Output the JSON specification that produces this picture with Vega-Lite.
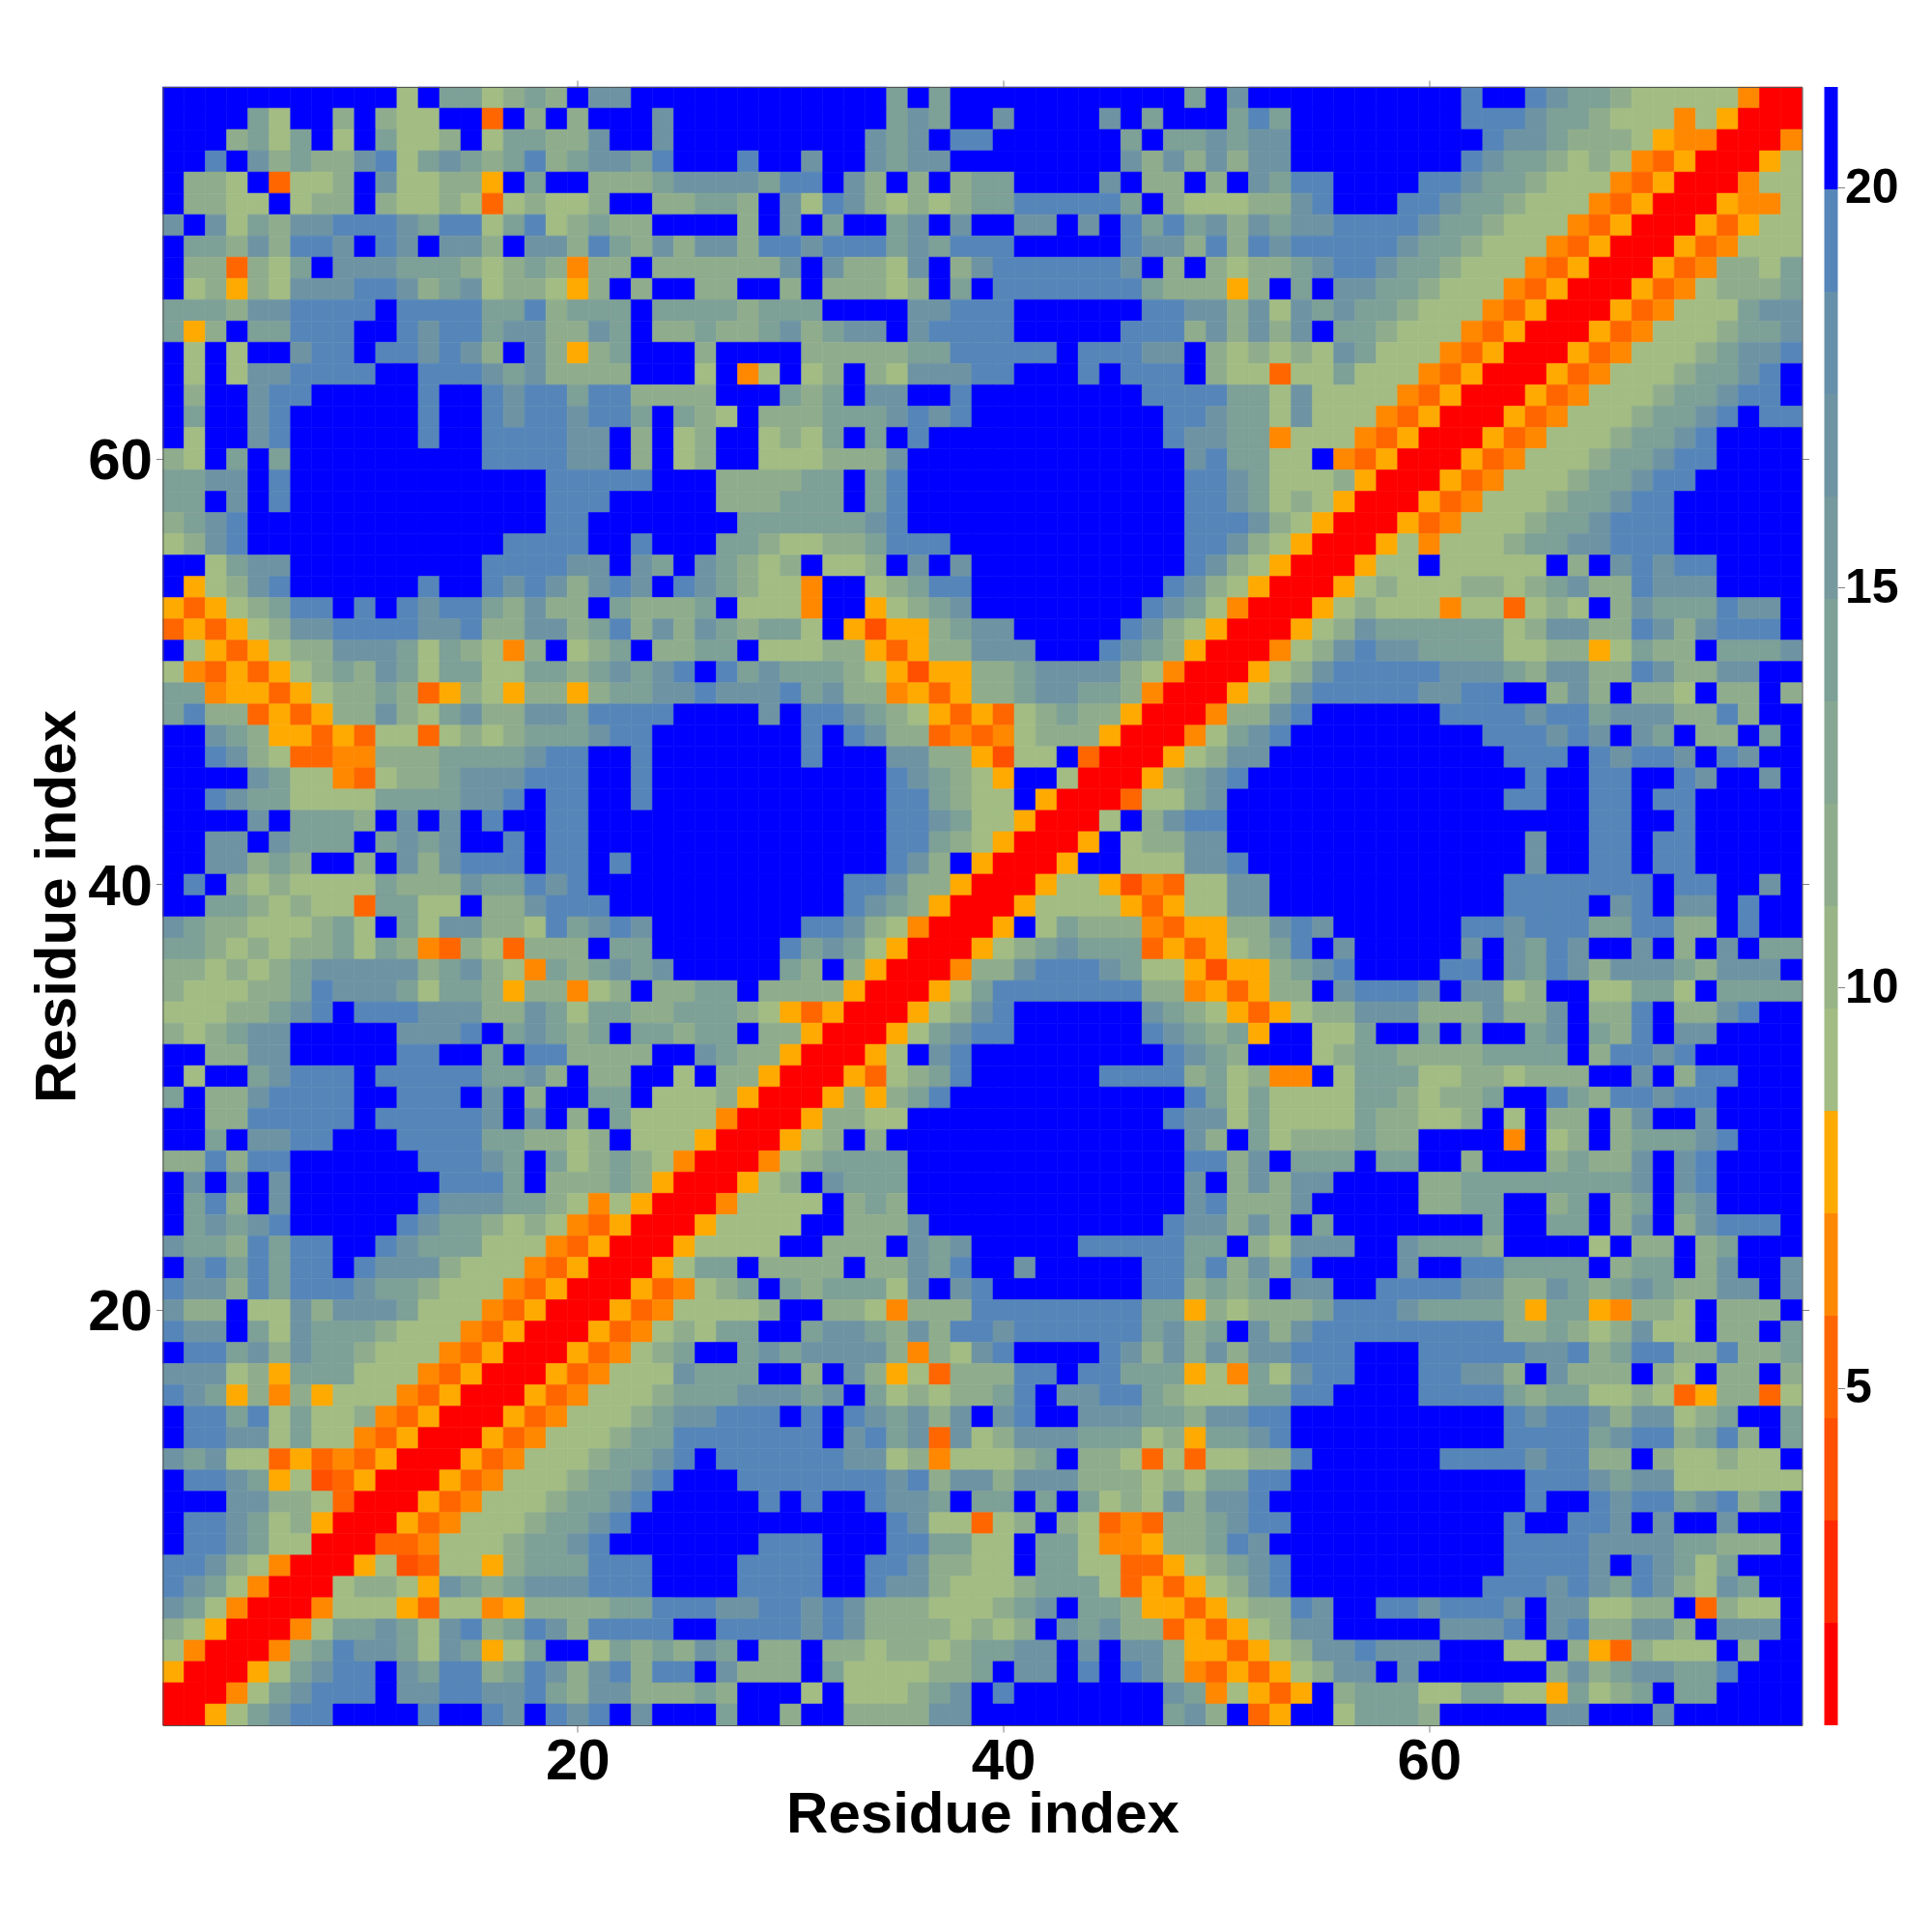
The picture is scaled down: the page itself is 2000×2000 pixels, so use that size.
{"$schema":"https://vega.github.io/schema/vega-lite/v6.json","description":"Values estimated by eye from the reference. Stored as one row per matrix line (array d) rather than one row per cell; flatten and window row_number expand them to cells.","background":"white","padding":{"left":29.5,"top":82,"right":20,"bottom":20},"spacing":23,"bounds":"flush","config":{"view":{"stroke":null},"font":"Liberation Sans"},"datasets":{"matrix":[
{"y":77,"d":[21,21,21,21,21,21,21,21,21,21,21,9,21,14,14,9,12,14,12,21,17,17,21,21,21,21,21,21,21,21,21,21,21,21,14,21,14,21,21,21,21,21,21,21,21,21,21,21,14,21,17,21,21,21,21,21,21,21,21,21,21,19,21,21,19,17,14,14,12,9,9,9,9,9,6,1,1]},
{"y":76,"d":[21,21,21,21,14,9,21,21,12,21,12,9,9,21,21,5,21,12,21,12,21,21,21,17,21,21,21,21,21,21,21,21,21,21,14,17,14,21,21,17,21,21,21,21,17,21,14,21,21,21,14,19,14,21,21,21,21,21,21,21,21,19,19,19,17,14,14,12,9,9,9,6,9,8,1,1,1]},
{"y":75,"d":[21,21,21,12,14,9,14,21,9,21,14,9,9,12,21,9,14,14,12,12,17,21,21,17,21,21,21,21,21,21,21,21,21,17,14,17,21,19,19,21,21,21,21,21,21,14,21,14,14,17,14,17,17,21,21,21,21,21,21,21,21,21,19,17,17,14,12,12,12,9,8,6,6,1,1,1,6]},
{"y":74,"d":[21,21,19,21,17,12,14,12,12,17,19,9,14,17,14,12,14,19,12,14,17,17,14,19,21,21,21,19,21,21,17,21,21,17,14,17,17,21,21,21,21,21,21,21,21,17,12,17,12,17,12,17,17,21,21,21,21,21,21,21,21,19,17,14,14,12,9,12,9,6,5,8,1,1,1,8,9]},
{"y":73,"d":[21,12,12,9,21,5,9,9,12,21,17,9,9,12,12,8,21,14,21,21,12,12,12,14,17,17,17,17,14,19,19,21,17,12,21,12,21,12,14,14,21,21,21,21,17,21,12,12,21,12,21,17,14,19,19,21,21,21,21,19,19,17,14,14,12,9,9,9,6,5,8,1,1,1,6,9,9]},
{"y":72,"d":[21,12,12,9,9,21,9,12,12,21,12,9,9,12,9,5,9,12,9,9,12,21,21,12,12,14,14,12,21,17,9,19,17,12,9,12,9,12,14,14,19,19,19,19,19,14,21,12,9,9,9,12,12,17,19,21,21,21,19,19,17,14,14,12,9,9,9,6,5,8,1,1,1,8,6,6,9]},
{"y":71,"d":[17,21,17,9,14,12,17,17,19,19,19,17,14,19,19,9,14,19,9,12,14,12,12,21,21,21,21,12,21,17,21,14,21,21,14,17,21,17,21,21,17,17,21,17,21,19,14,19,14,17,12,17,14,17,17,19,19,19,19,17,14,14,12,9,9,9,6,5,8,1,1,1,8,5,8,9,9]},
{"y":70,"d":[21,14,14,12,17,12,19,19,17,21,19,17,21,17,17,12,21,17,17,12,19,14,12,17,12,17,17,12,19,19,17,19,19,19,14,17,14,19,19,19,21,21,21,21,21,19,17,17,12,19,12,19,17,19,19,19,19,19,17,14,14,12,9,9,9,6,5,8,1,1,1,8,5,6,9,9,9]},
{"y":69,"d":[21,12,12,5,12,9,14,21,17,17,17,14,14,14,12,9,12,14,12,6,12,12,21,12,12,12,12,12,12,17,21,17,12,12,9,17,21,12,17,19,19,19,19,19,19,17,21,12,21,12,9,12,12,14,17,19,19,17,14,14,12,9,9,9,6,5,8,1,1,1,8,5,6,12,12,9,14]},
{"y":68,"d":[21,9,12,8,12,9,17,17,17,19,19,17,12,14,17,9,12,12,9,8,12,21,12,21,21,12,12,21,21,12,21,12,12,12,9,12,21,14,21,19,19,19,19,19,19,19,14,12,12,12,8,12,21,14,21,17,17,14,14,12,9,9,9,6,5,8,1,1,1,8,5,6,9,12,12,12,14]},
{"y":67,"d":[14,14,14,12,17,17,19,19,19,19,21,19,19,19,19,14,14,19,12,14,14,14,21,14,14,14,14,12,14,14,14,21,21,21,21,17,17,19,19,19,21,21,21,21,21,21,19,19,17,17,12,17,9,17,14,17,14,14,12,9,9,9,6,5,8,1,1,1,8,5,6,9,9,9,14,17,17]},
{"y":66,"d":[14,8,12,21,14,14,19,19,19,21,21,19,17,19,19,14,17,17,12,12,17,14,21,12,12,14,12,12,14,17,12,14,17,17,21,17,19,19,19,19,21,21,21,21,21,19,19,19,12,17,12,17,12,17,21,14,14,12,9,9,9,6,5,8,1,1,1,8,5,6,9,9,9,12,14,14,17]},
{"y":65,"d":[21,9,21,9,21,21,17,19,19,21,19,19,17,19,17,12,21,17,12,8,12,14,21,21,21,12,21,21,21,21,12,12,12,12,12,14,14,19,19,19,19,19,21,19,19,19,17,17,21,12,9,12,9,12,9,17,14,9,9,9,6,5,8,1,1,1,8,5,6,9,9,9,12,14,17,17,19]},
{"y":64,"d":[21,9,21,9,17,17,19,19,19,19,21,21,19,19,19,17,14,17,12,12,12,12,21,21,21,9,21,6,9,21,9,12,21,12,9,17,17,17,19,19,21,21,21,19,21,19,19,19,21,12,9,9,5,9,9,14,9,9,9,6,5,8,1,1,1,8,5,6,9,9,9,12,14,14,17,19,21]},
{"y":63,"d":[21,12,21,21,17,19,19,21,21,21,21,21,19,21,21,19,17,19,19,14,19,19,12,12,12,12,21,21,21,14,12,14,21,17,17,21,21,19,21,21,21,21,21,21,21,21,19,19,19,19,14,14,9,17,9,9,9,9,6,5,8,1,1,1,8,5,6,9,9,9,12,14,14,17,19,19,21]},
{"y":62,"d":[21,14,21,21,17,19,21,21,21,21,21,21,19,21,21,19,17,19,19,17,19,19,14,21,14,12,9,21,12,12,12,14,14,14,17,19,17,19,21,21,21,21,21,21,21,21,21,19,19,17,14,14,9,17,9,9,9,6,5,8,1,1,1,8,5,6,9,9,9,12,14,14,17,19,21,19,19]},
{"y":61,"d":[21,9,21,21,17,19,21,21,21,21,21,21,19,21,21,19,19,19,19,17,17,21,12,21,9,12,21,21,9,12,9,14,21,14,21,19,21,21,21,21,21,21,21,21,21,21,21,19,17,17,14,14,6,9,9,9,6,5,8,1,1,1,8,5,6,9,9,9,12,14,14,17,19,21,21,21,21]},
{"y":60,"d":[12,9,21,14,21,14,21,21,21,21,21,21,21,21,21,19,19,19,19,17,17,21,12,21,9,12,21,21,9,9,9,12,12,12,17,21,21,21,21,21,21,21,21,21,21,21,21,21,17,19,14,14,9,9,21,6,5,8,1,1,1,8,5,6,9,9,9,12,14,14,17,19,19,21,21,21,21]},
{"y":59,"d":[14,14,17,17,21,19,21,21,21,21,21,21,21,21,21,21,21,21,19,19,19,19,19,21,21,21,12,12,12,12,14,14,21,14,19,21,21,21,21,21,21,21,21,21,21,21,21,21,19,19,17,14,9,9,9,12,8,1,1,1,8,5,6,9,9,9,12,14,14,17,19,19,21,21,21,21,21]},
{"y":58,"d":[14,14,21,17,21,19,21,21,21,21,21,21,21,21,21,21,21,21,19,19,19,21,21,21,21,21,12,12,12,14,14,14,21,14,19,21,21,21,21,21,21,21,21,21,21,21,21,21,19,19,17,14,9,12,9,8,1,1,1,8,5,6,9,9,9,12,14,14,17,19,19,21,21,21,21,21,21]},
{"y":57,"d":[12,14,17,19,21,21,21,21,21,21,21,21,21,21,21,21,21,21,19,19,21,21,21,21,21,21,21,14,14,14,14,14,14,17,19,21,21,21,21,21,21,21,21,21,21,21,21,21,19,19,19,17,12,9,8,1,1,1,8,5,6,9,9,9,12,14,14,17,19,19,19,21,21,21,21,21,21]},
{"y":56,"d":[9,12,17,19,21,21,21,21,21,21,21,21,21,21,21,21,19,19,19,19,21,21,19,21,21,21,14,14,12,9,9,12,12,14,19,19,19,21,21,21,21,21,21,21,21,21,21,21,19,19,17,12,9,8,1,1,1,8,9,6,9,9,9,12,14,14,17,17,19,19,19,21,21,21,21,21,21]},
{"y":55,"d":[21,21,9,14,17,17,21,21,21,21,21,21,21,21,21,19,19,19,19,17,17,21,17,14,21,17,14,12,9,12,21,9,9,12,21,17,21,17,21,21,21,21,21,21,21,21,21,21,19,17,12,9,8,1,1,1,8,9,9,21,9,9,9,9,9,21,12,21,17,19,17,19,19,21,21,21,21]},
{"y":54,"d":[21,8,9,12,17,19,21,21,21,21,21,21,19,21,21,19,17,19,17,12,17,19,17,21,19,17,14,12,9,9,6,21,21,9,12,14,19,19,21,21,21,21,21,21,21,21,21,19,17,12,9,8,1,1,1,8,9,12,9,9,9,12,12,9,12,14,17,12,12,19,17,17,17,21,21,21,21]},
{"y":53,"d":[8,5,8,9,12,14,19,19,21,19,21,19,17,19,19,14,12,17,12,12,21,14,12,12,12,14,21,9,9,9,6,21,21,8,9,12,14,17,21,21,21,21,21,21,21,21,19,17,14,9,6,1,1,1,8,9,12,9,9,9,6,9,9,5,9,12,9,21,12,17,14,14,14,19,17,17,21]},
{"y":52,"d":[5,8,5,8,9,12,17,17,19,19,19,19,17,17,19,12,12,17,17,12,14,19,12,17,12,17,14,12,14,14,9,21,8,4,8,8,12,14,17,17,21,21,21,21,21,19,17,12,9,8,1,1,1,8,9,12,17,14,14,14,14,14,14,9,12,17,17,12,12,19,17,12,17,19,19,19,21]},
{"y":51,"d":[21,9,8,5,8,9,12,12,17,17,17,14,9,14,12,9,6,12,21,9,12,14,21,12,12,14,14,21,9,9,9,12,12,8,5,8,12,12,17,17,17,21,21,21,19,17,14,12,8,1,1,1,6,9,12,17,19,17,17,14,14,14,14,9,9,12,12,8,9,14,12,12,21,14,14,14,17]},
{"y":50,"d":[9,6,5,8,5,8,9,12,14,12,17,14,9,14,14,9,9,14,14,12,14,17,14,17,19,21,19,14,17,14,14,14,12,9,8,4,8,8,12,12,14,17,17,17,17,12,9,6,1,1,1,8,9,12,17,19,19,19,19,19,17,17,17,14,12,17,17,12,12,19,17,12,12,17,17,21,21]},
{"y":49,"d":[14,14,6,8,8,5,8,9,12,12,14,12,5,8,12,9,8,12,12,8,12,14,14,17,17,19,17,17,17,19,14,17,12,12,6,8,5,8,12,12,14,17,17,14,14,12,6,1,1,1,8,9,12,17,19,19,19,19,19,17,17,19,19,21,21,12,17,12,21,12,12,9,21,12,12,21,12]},
{"y":48,"d":[14,19,12,12,5,8,5,8,12,12,17,12,9,14,17,12,12,17,17,14,19,19,19,19,21,21,21,21,17,21,19,19,17,14,12,9,8,5,8,5,9,12,14,12,12,8,1,1,1,6,12,12,17,19,21,21,21,21,21,21,19,19,19,19,17,19,19,14,17,17,17,12,12,19,12,21,21]},
{"y":47,"d":[21,21,17,14,12,8,8,5,8,5,9,9,5,9,12,9,12,14,14,14,17,19,19,21,21,21,21,21,21,21,19,21,19,17,12,12,5,6,5,6,9,12,12,12,8,1,1,1,6,9,14,17,19,21,21,21,21,21,21,21,21,21,19,19,19,17,19,17,21,17,14,21,12,12,21,14,21]},
{"y":46,"d":[21,21,19,17,12,9,5,5,6,6,12,12,12,14,14,14,14,17,19,19,21,21,19,21,21,21,21,21,21,21,19,21,21,21,17,17,12,12,8,4,9,9,21,5,1,1,1,8,9,12,17,17,21,21,21,21,21,21,21,21,21,21,21,19,19,19,21,19,17,19,19,17,21,19,17,21,21]},
{"y":45,"d":[21,21,21,21,17,14,9,9,6,5,9,12,12,14,17,17,17,19,19,19,21,21,19,21,21,21,21,21,21,21,21,21,21,21,19,17,14,12,9,8,21,21,9,1,1,1,8,12,14,17,19,21,21,21,21,21,21,21,21,21,21,21,21,21,19,21,21,19,19,21,21,19,17,21,21,17,21]},
{"y":44,"d":[21,21,19,17,14,14,9,9,9,9,14,14,14,14,17,17,19,21,19,19,21,21,19,21,21,21,21,21,21,21,21,21,21,21,19,19,14,12,9,9,21,8,1,1,1,5,9,9,14,17,21,21,21,21,21,21,21,21,21,21,21,21,21,19,19,21,21,19,19,21,19,19,21,21,21,21,21]},
{"y":43,"d":[21,21,21,21,17,21,14,14,14,12,21,17,21,17,21,19,21,21,19,19,21,21,21,21,21,21,21,21,21,21,21,21,21,21,19,19,17,14,9,9,8,1,1,1,9,21,12,17,19,19,21,21,21,21,21,21,21,21,21,21,21,21,21,21,21,21,21,19,19,21,21,19,21,21,21,21,21]},
{"y":42,"d":[21,21,17,17,21,17,14,14,14,21,14,17,14,17,21,21,19,21,19,19,21,21,21,21,21,21,21,21,21,21,21,21,21,21,19,19,14,12,9,8,1,1,1,8,21,9,12,12,17,17,21,21,21,21,21,21,21,21,21,21,21,21,21,21,17,21,21,19,19,21,19,19,21,21,21,21,21]},
{"y":41,"d":[21,21,17,17,12,14,12,21,21,12,21,17,12,17,19,19,19,21,19,19,21,19,21,21,21,21,21,21,21,21,21,21,21,21,19,17,12,21,8,1,1,1,8,21,21,9,9,9,17,17,19,21,21,21,21,21,21,21,21,21,21,21,21,21,17,21,21,19,19,21,19,19,21,21,21,21,21]},
{"y":40,"d":[21,19,21,12,9,12,9,9,9,9,14,12,12,12,17,14,14,19,17,19,21,21,21,21,21,21,21,21,21,21,21,21,19,19,17,12,12,8,1,1,1,8,9,9,8,4,6,5,9,9,17,17,21,21,21,21,21,21,21,21,21,21,21,19,19,19,19,19,19,19,21,19,19,21,21,17,21]},
{"y":39,"d":[21,21,14,14,12,9,12,9,9,5,14,14,9,9,21,12,12,17,19,19,19,21,21,21,21,21,21,21,21,21,21,21,19,17,14,12,8,1,1,1,8,9,9,9,9,8,5,8,9,9,17,17,21,21,21,21,21,21,21,21,21,21,21,19,19,19,19,21,17,19,21,17,17,21,19,21,21]},
{"y":38,"d":[17,14,12,12,9,9,9,12,14,9,21,14,9,17,17,12,12,9,19,14,17,19,17,21,21,21,21,21,21,21,19,19,17,12,9,6,1,1,1,8,21,9,14,12,12,12,6,5,8,8,12,12,17,19,17,21,21,21,21,21,21,19,19,17,19,19,19,14,14,19,19,12,12,21,19,21,21]},
{"y":37,"d":[14,14,12,9,12,9,12,12,14,9,14,12,6,5,12,9,5,12,12,12,21,14,14,21,21,21,21,21,21,19,14,17,14,9,8,1,1,1,8,9,12,14,17,14,14,14,5,8,5,8,9,12,14,19,21,17,21,21,21,21,21,17,21,17,14,19,17,21,21,17,21,12,21,17,21,14,14]},
{"y":36,"d":[12,12,9,12,9,12,14,17,17,17,17,17,12,14,17,12,9,6,14,12,14,17,14,17,21,21,21,21,21,14,12,21,12,8,1,1,1,6,12,12,17,19,19,19,17,14,9,9,8,4,8,8,12,14,17,19,21,21,21,21,19,19,21,17,14,19,17,12,17,17,17,14,12,17,17,17,21]},
{"y":35,"d":[12,9,9,9,12,12,14,19,17,17,17,14,9,14,14,12,8,12,12,6,9,12,21,12,12,14,14,21,12,12,12,12,8,1,1,1,8,9,14,19,19,19,19,19,19,19,12,12,6,8,5,8,12,12,21,17,19,19,19,17,21,17,17,9,12,21,21,9,9,14,14,9,21,14,14,14,14]},
{"y":34,"d":[9,9,9,12,12,14,17,19,21,19,19,19,17,17,17,12,12,17,14,9,14,14,12,12,14,14,14,12,9,8,5,8,1,1,1,8,9,12,17,19,21,21,21,21,21,21,17,14,12,9,8,5,8,9,12,12,17,17,17,12,12,12,17,12,12,17,21,12,12,19,21,12,12,17,19,21,21]},
{"y":33,"d":[12,9,12,14,17,17,21,21,21,21,21,17,17,17,19,21,14,17,14,12,14,21,14,14,12,14,14,21,12,12,8,1,1,1,8,9,14,17,19,19,21,21,21,21,21,21,19,17,14,12,14,8,21,21,9,9,14,21,21,14,21,14,21,21,14,17,21,14,12,19,21,17,17,21,21,21,21]},
{"y":32,"d":[21,21,12,12,17,17,21,21,21,21,21,19,19,21,21,14,21,19,19,12,12,12,12,21,21,17,14,12,12,8,1,1,1,8,9,21,17,19,21,21,21,21,21,21,21,21,21,19,17,14,12,21,21,21,9,12,14,14,12,12,12,12,14,14,14,14,21,12,19,19,17,19,21,21,21,21,21]},
{"y":31,"d":[21,9,21,21,14,17,19,19,19,21,19,19,19,19,19,14,14,17,12,21,12,12,21,21,9,21,12,12,8,1,1,1,8,5,9,12,14,19,21,21,21,21,21,21,19,19,19,19,12,14,9,12,6,6,21,9,14,14,14,9,9,12,12,9,12,12,12,21,21,17,21,12,19,19,21,21,21]},
{"y":30,"d":[14,21,12,12,17,19,19,19,19,21,21,19,19,19,21,17,21,12,21,21,14,14,21,9,9,9,12,8,1,1,1,8,12,8,12,14,19,21,21,21,21,21,21,21,21,21,21,21,19,14,9,14,9,9,9,9,14,14,12,9,12,12,14,21,21,19,14,12,19,19,17,19,19,21,21,21,21]},
{"y":29,"d":[21,21,12,12,19,19,19,19,19,21,19,19,19,19,19,17,21,17,21,12,21,14,9,9,9,9,6,1,1,1,8,12,12,9,9,21,21,21,21,21,21,21,21,21,21,21,21,19,17,17,9,14,9,9,9,9,14,12,12,9,9,12,21,9,21,12,12,21,12,17,21,21,17,21,21,21,21]},
{"y":28,"d":[21,21,14,21,17,17,19,19,21,21,21,19,19,19,19,14,14,12,12,9,12,21,9,9,9,8,1,1,1,8,9,12,21,12,21,21,21,21,21,21,21,21,21,21,21,21,21,21,17,12,21,14,9,12,12,12,14,12,12,21,21,21,21,6,21,9,12,21,12,14,14,14,17,19,21,21,21]},
{"y":27,"d":[12,12,19,12,19,19,21,21,21,21,21,21,19,19,19,17,14,21,14,9,12,14,12,9,6,1,1,1,6,9,12,14,14,14,14,21,21,21,21,21,21,21,21,21,21,21,21,21,19,19,12,17,21,14,14,14,21,14,14,21,21,12,21,21,21,12,14,12,12,17,21,17,19,21,21,21,21]},
{"y":26,"d":[21,17,21,17,21,17,21,21,21,21,21,21,21,19,19,19,14,21,12,12,12,14,12,8,1,1,1,8,9,12,21,17,14,14,14,21,21,21,21,21,21,21,21,21,21,21,21,21,17,21,12,17,12,17,17,21,21,21,21,12,12,14,14,14,14,14,14,14,14,17,21,17,19,21,21,21,21]},
{"y":25,"d":[21,14,19,12,21,17,21,21,21,21,21,21,19,17,17,17,14,14,12,9,6,9,8,1,1,1,6,9,9,9,9,21,12,14,12,21,21,21,21,21,21,21,21,21,21,21,21,21,17,19,12,12,12,17,21,21,21,21,21,12,12,14,14,21,21,12,14,21,12,14,21,14,17,21,21,21,21]},
{"y":24,"d":[21,14,17,14,17,19,21,21,21,21,21,19,17,14,14,12,9,12,9,6,5,8,1,1,1,8,9,9,9,9,21,21,12,12,12,17,21,21,21,21,21,21,21,21,21,21,21,19,17,17,12,17,12,21,14,21,21,21,21,21,21,21,14,21,21,14,14,21,12,17,21,12,17,19,19,19,21]},
{"y":23,"d":[17,14,14,12,19,14,19,19,21,21,19,17,14,14,14,9,9,9,6,5,8,1,1,1,8,9,9,9,9,21,21,12,12,12,21,17,14,17,21,21,21,21,21,19,19,19,19,19,14,14,21,12,9,17,17,17,21,21,17,14,14,14,12,21,21,21,21,9,21,12,12,21,12,14,21,21,21]},
{"y":22,"d":[21,17,19,14,19,14,19,19,21,19,17,17,17,12,9,9,9,6,5,8,1,1,1,8,9,14,14,21,12,12,12,12,21,12,12,17,14,19,21,21,17,21,21,21,21,21,19,19,14,19,12,17,12,19,21,21,21,21,17,21,21,19,19,14,14,14,14,21,12,14,14,21,12,17,21,21,17]},
{"y":21,"d":[19,17,17,12,19,14,19,19,19,17,14,14,12,9,9,9,6,5,8,1,1,1,8,5,6,9,12,14,21,14,12,14,14,14,9,17,21,17,19,21,21,21,21,21,21,21,19,19,12,14,12,14,21,17,17,21,21,19,19,19,19,17,17,12,12,17,14,12,14,17,14,12,12,17,17,21,17]},
{"y":20,"d":[17,12,12,21,9,9,17,12,17,17,17,14,9,9,9,6,5,8,1,1,1,8,5,6,9,9,9,9,12,21,21,12,12,9,6,12,12,12,19,19,19,19,19,19,19,19,14,14,8,12,9,12,12,12,14,19,19,19,17,14,14,14,14,12,8,14,14,8,6,12,12,9,21,12,12,12,21]},
{"y":19,"d":[19,17,17,21,14,9,17,14,14,14,12,9,9,9,6,5,8,1,1,1,8,5,6,9,12,9,14,14,21,21,14,17,17,14,12,17,12,19,19,17,19,19,19,19,19,19,14,17,12,14,21,17,12,17,19,19,19,19,19,19,19,19,19,12,12,14,12,9,12,17,9,9,21,12,12,21,14]},
{"y":18,"d":[21,19,19,14,17,12,17,14,14,12,9,9,9,6,5,8,1,1,1,8,5,6,9,12,14,21,21,14,17,14,17,17,17,17,12,6,12,9,17,19,21,21,21,21,19,17,12,17,12,17,12,17,17,19,19,19,21,21,21,19,19,19,19,19,17,17,19,12,14,19,19,12,12,19,12,12,14]},
{"y":17,"d":[17,17,17,9,12,8,14,14,14,9,9,9,6,5,8,1,1,1,8,5,6,9,9,9,17,14,14,14,21,21,12,21,17,12,8,9,5,12,12,12,19,19,21,19,19,14,14,14,8,9,6,14,9,17,19,19,21,21,21,19,19,17,17,12,21,17,12,12,12,21,12,9,21,12,12,21,12]},
{"y":16,"d":[19,17,14,8,12,6,12,8,9,9,9,6,5,8,1,1,1,8,5,6,9,9,9,12,14,14,14,17,17,17,14,17,21,14,9,12,9,12,12,14,19,21,17,17,19,19,14,12,9,9,9,14,14,19,19,21,21,21,21,19,19,19,19,14,12,14,14,9,9,12,9,5,8,12,12,5,9]},
{"y":15,"d":[21,19,19,14,19,9,14,9,9,12,6,5,8,1,1,1,8,5,6,9,9,9,12,14,17,17,19,19,19,21,19,21,19,17,14,17,12,17,21,17,19,21,21,17,17,17,14,14,12,17,17,19,19,21,21,21,21,21,21,21,21,21,21,19,17,19,19,17,12,17,17,9,12,14,21,21,14]},
{"y":14,"d":[21,19,19,17,17,9,14,9,9,6,5,8,1,1,1,8,5,6,9,9,9,12,14,14,19,19,19,19,19,19,19,21,17,19,14,17,5,17,9,12,17,17,17,14,14,14,9,12,8,14,14,17,19,21,21,21,21,21,21,21,21,21,21,19,19,19,19,14,17,19,19,12,14,19,12,21,14]},
{"y":13,"d":[17,14,17,9,9,5,8,5,6,5,8,1,1,1,8,5,6,9,9,9,12,14,14,17,19,21,19,19,19,19,19,19,17,17,9,12,6,9,9,9,12,14,21,12,12,9,5,9,5,9,9,12,12,19,21,21,21,21,21,21,19,19,19,19,17,19,19,12,12,21,12,9,9,12,9,9,21]},
{"y":12,"d":[21,19,19,17,14,8,9,4,5,8,1,1,1,8,5,6,9,9,9,12,14,14,17,19,21,21,21,19,19,19,19,19,19,19,17,19,12,17,17,12,17,17,17,12,12,12,9,12,9,14,14,19,19,21,21,21,21,21,21,21,21,21,21,21,19,19,19,17,14,17,17,9,9,9,9,9,9]},
{"y":11,"d":[21,21,21,17,17,12,12,9,5,1,1,1,8,5,6,9,9,9,12,14,14,17,19,21,21,21,21,21,19,21,19,21,21,19,17,17,14,21,14,14,21,14,21,14,9,12,9,17,12,17,17,19,21,21,21,21,21,21,21,21,21,21,21,21,19,21,21,19,17,19,19,14,17,19,12,14,21]},
{"y":10,"d":[21,19,19,17,14,9,12,8,1,1,1,8,5,6,9,9,9,12,14,14,17,19,21,21,21,21,21,21,21,21,21,21,21,21,19,17,9,9,5,9,12,21,12,9,5,6,5,12,12,14,17,19,19,21,21,21,21,21,21,21,21,21,21,19,21,21,19,19,17,21,17,21,21,17,21,21,21]},
{"y":9,"d":[21,19,19,17,14,9,9,1,1,1,5,5,6,9,9,9,12,14,14,17,19,21,21,21,21,21,21,21,19,19,19,21,21,21,19,19,14,14,9,9,21,14,14,9,6,6,8,12,12,14,19,17,21,21,21,21,21,21,21,21,21,21,21,19,19,19,19,17,17,17,17,14,14,12,12,12,21]},
{"y":8,"d":[19,19,17,12,9,6,1,1,1,8,9,4,5,9,9,8,12,14,14,14,19,19,19,21,21,21,21,19,19,19,19,21,21,19,19,17,12,12,9,9,21,14,14,9,9,5,5,8,9,12,14,17,19,21,21,21,21,21,21,21,21,21,21,19,19,19,19,17,21,19,17,14,9,14,21,21,21]},
{"y":7,"d":[19,17,14,9,6,1,1,1,9,12,12,9,8,17,14,12,14,17,17,17,19,19,19,21,21,21,21,19,19,19,19,21,21,19,17,17,12,9,9,9,12,14,14,14,9,5,8,5,8,9,12,17,19,21,21,21,21,21,21,21,21,21,19,19,19,17,19,17,14,19,17,12,9,17,14,21,21]},
{"y":6,"d":[17,14,9,6,1,1,1,6,9,9,9,8,5,9,9,6,8,12,12,12,12,14,14,19,19,19,17,17,19,19,17,19,17,12,12,12,9,9,9,12,14,17,21,14,14,12,8,8,5,8,9,12,12,19,17,21,21,19,19,17,19,19,19,17,21,17,17,9,9,12,12,21,5,12,9,9,21]},
{"y":5,"d":[12,9,8,1,1,1,6,9,14,14,17,14,9,17,19,12,14,19,17,12,19,19,19,19,21,21,19,19,19,19,17,19,17,12,12,12,12,9,12,9,12,21,17,14,17,12,12,5,8,5,8,9,12,17,17,21,21,21,21,21,17,17,17,19,21,17,19,12,12,17,17,12,21,17,17,17,21]},
{"y":4,"d":[9,6,1,1,1,6,12,14,19,17,17,14,9,17,14,8,9,14,21,21,9,14,12,14,12,17,14,21,12,12,21,12,12,9,12,12,9,12,14,14,17,17,21,17,21,17,17,12,8,8,5,8,9,12,17,17,19,17,17,17,21,21,21,9,9,21,12,8,5,12,9,9,9,21,12,21,21]},
{"y":3,"d":[8,1,1,1,8,9,14,17,19,19,21,17,14,19,19,12,14,19,17,12,17,19,12,19,19,21,17,12,12,12,21,14,9,9,9,9,12,12,14,21,17,17,21,19,21,19,17,12,6,5,8,5,8,9,12,17,17,21,17,21,21,21,21,21,21,12,17,12,14,17,17,14,14,19,21,21,21]},
{"y":2,"d":[1,1,1,6,9,14,17,19,19,19,21,17,17,19,19,17,17,19,14,12,17,17,12,12,12,14,12,21,21,21,9,21,9,9,9,12,14,17,21,19,21,21,21,21,21,21,21,17,14,6,9,8,5,8,21,12,14,14,14,9,9,14,14,9,9,8,14,9,12,14,21,14,14,21,21,21,21]},
{"y":1,"d":[1,1,8,9,14,17,19,19,21,21,21,21,19,21,21,19,17,21,19,17,19,21,17,21,21,21,14,21,21,12,21,21,12,12,12,12,17,17,21,21,21,21,21,21,21,21,21,14,17,12,21,5,8,21,21,9,14,14,14,12,21,21,21,21,21,17,17,21,21,21,17,21,21,21,21,21,21]}
],"bands":[
{"lo":0.78,"hi":2.06,"v":1},{"lo":2.06,"hi":3.34,"v":3},{"lo":3.34,"hi":4.62,"v":4},{"lo":4.62,"hi":5.9,"v":5},{"lo":5.9,"hi":7.18,"v":6},{"lo":7.18,"hi":8.46,"v":8},{"lo":8.46,"hi":9.74,"v":9},{"lo":9.74,"hi":11.02,"v":10},{"lo":11.02,"hi":12.3,"v":12},{"lo":12.3,"hi":13.58,"v":13},{"lo":13.58,"hi":14.86,"v":14},{"lo":14.86,"hi":16.14,"v":15},{"lo":16.14,"hi":17.42,"v":17},{"lo":17.42,"hi":18.7,"v":18},{"lo":18.7,"hi":19.98,"v":19},{"lo":19.98,"hi":21.26,"v":21}]},
"hconcat":[
{"width":1697,"height":1696,"data":{"name":"matrix"},"transform":[{"flatten":["d"]},{"window":[{"op":"row_number","as":"x"}],"groupby":["y"]}],
"layer":[
{"mark":{"type":"rect","strokeWidth":0.6},"encoding":{
"x":{"field":"x","type":"ordinal","scale":{"paddingInner":0,"paddingOuter":0,"round":false},"axis":{"values":[20,40,60],"labelAngle":0,"labelFont":"Liberation Sans","labelFontWeight":"bold","labelFontSize":60,"labelColor":"black","labelPadding":1,"tickSize":7,"tickColor":"#808080","domainColor":"#555555","title":"Residue index","titleFont":"Liberation Sans","titleFontWeight":"bold","titleFontSize":60,"titleColor":"black","titlePadding":-4}},
"y":{"field":"y","type":"ordinal","sort":"descending","scale":{"paddingInner":0,"paddingOuter":0,"round":false},"axis":{"values":[20,40,60],"labelFont":"Liberation Sans","labelFontWeight":"bold","labelFontSize":60,"labelColor":"black","labelPadding":4,"labelOffset":3,"tickSize":7,"tickColor":"#808080","domainColor":"#555555","title":"Residue index","titleFont":"Liberation Sans","titleFontWeight":"bold","titleFontSize":60,"titleColor":"black","titlePadding":0}},
"fill":{"field":"d","type":"quantitative","legend":null,"scale":{"type":"quantize","domain":[0.78,21.26],"nice":false,"range":["#ff0000","#ff2a00","#ff5000","#ff6600","#ff8800","#ffaa00","#a2bc83","#99b587","#8fad8c","#86a792","#7da097","#76999d","#6e94a3","#6690aa","#5686b9","#0000ff"]}},
"stroke":{"field":"d","type":"quantitative","legend":null,"scale":{"type":"quantize","domain":[0.78,21.26],"nice":false,"range":["#ff0000","#ff2a00","#ff5000","#ff6600","#ff8800","#ffaa00","#a2bc83","#99b587","#8fad8c","#86a792","#7da097","#76999d","#6e94a3","#6690aa","#5686b9","#0000ff"]}}
}},
{"mark":{"type":"rect","opacity":0},"encoding":{
"x":{"field":"x","type":"ordinal","axis":{"orient":"top","values":[20,40,60],"labels":false,"title":null,"tickSize":7,"tickColor":"#808080","domainColor":"#555555"}},
"y":{"field":"y","type":"ordinal","sort":"descending","axis":{"orient":"right","values":[20,40,60],"labels":false,"title":null,"tickSize":7,"tickColor":"#808080","domainColor":"#555555"}}
}}
],"resolve":{"axis":{"x":"independent","y":"independent"}}},
{"width":14,"height":1696,"data":{"name":"bands"},"mark":{"type":"rect"},"encoding":{
"y":{"field":"lo","type":"quantitative","scale":{"domain":[0.78,21.26],"nice":false,"zero":false},"axis":{"orient":"right","values":[5,10,15,20],"grid":false,"labelFont":"Liberation Sans","labelFontWeight":"bold","labelFontSize":50,"labelColor":"black","labelPadding":0,"tickSize":7,"tickColor":"#808080","domain":false,"title":null}},
"y2":{"field":"hi"},
"fill":{"field":"v","type":"quantitative","legend":null,"scale":{"type":"quantize","domain":[0.78,21.26],"nice":false,"range":["#ff0000","#ff2a00","#ff5000","#ff6600","#ff8800","#ffaa00","#a2bc83","#99b587","#8fad8c","#86a792","#7da097","#76999d","#6e94a3","#6690aa","#5686b9","#0000ff"]}}
}}
],"resolve":{"scale":{"fill":"independent"}}}
